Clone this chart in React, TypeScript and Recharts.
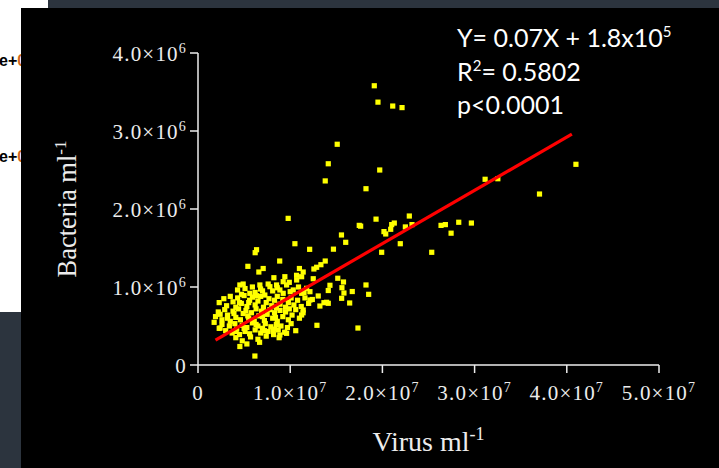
import React from 'react';
import { ScatterChart, Scatter, XAxis, YAxis } from 'recharts';

// virus (×10^6 ml-1), bacteria (×10^6 ml-1)
const SPARSE_POINTS: [number, number][] = [
  [19.12, 3.58], [19.52, 3.37], [21.12, 3.32], [22.13, 3.3], [15.1, 2.83],
  [14.13, 2.58], [13.8, 2.36], [19.71, 2.5], [18.22, 2.26], [9.78, 1.88],
  [19.31, 1.87], [22.92, 1.91], [17.49, 1.79], [17.64, 1.78], [21.29, 1.82],
  [21.01, 1.8], [20.9, 1.74], [20.17, 1.71], [20.36, 1.68], [22.49, 1.77],
  [23.21, 1.8], [26.36, 1.79], [26.83, 1.8], [27.45, 1.69], [28.28, 1.83],
  [29.65, 1.82], [25.35, 1.445], [21.94, 1.555], [19.92, 1.445], [15.56, 1.667],
  [16.02, 1.573], [10.51, 1.555], [12.11, 1.483], [14.69, 1.485], [6.35, 1.478],
  [6.2, 1.44], [8.86, 1.333], [5.41, 1.265], [13.8, 1.333], [13.33, 1.286],
  [12.87, 1.253], [12.57, 1.231], [7.07, 1.237], [6.6, 1.192], [11.0, 1.237],
  [11.41, 1.192], [10.69, 1.15], [11.24, 1.132], [12.5, 1.106], [15.16, 1.112],
  [15.78, 1.064], [14.31, 1.022], [14.13, 0.955], [15.61, 0.991], [15.83, 0.923],
  [16.73, 0.942], [18.22, 1.026], [18.51, 0.906], [16.45, 0.795], [13.04, 0.885],
  [13.22, 0.756], [13.66, 0.799], [14.13, 0.791], [17.35, 0.474], [12.9, 0.509],
  [4.54, 0.237], [6.17, 0.115], [6.68, 0.291], [1.75, 0.547], [2.4, 0.474],
  [31.14, 2.381], [32.52, 2.388], [40.99, 2.573], [37.04, 2.192], [15.58, 0.855],
  [12.14, 0.94], [11.78, 0.983], [11.24, 0.919], [10.33, 0.962], [8.23, 1.119],
  [9.42, 1.132], [9.24, 1.068], [8.52, 1.026], [9.61, 1.026], [4.9, 1.038],
  [4.54, 1.026], [6.71, 1.026], [6.79, 0.974], [7.61, 1.038], [7.8, 1.004],
  [4.29, 0.962], [4.72, 0.906], [5.62, 0.919], [6.35, 0.888], [7.25, 0.897],
  [9.24, 0.919], [8.88, 0.962], [8.88, 0.385], [9.61, 0.406], [8.15, 0.449],
  [11.24, 0.641], [11.41, 0.705], [12.14, 0.833], [13.95, 0.804],
];

const CLUSTER_POINTS: [number, number][] = [
  [5.1, 0.98], [5.9, 1.0], [8.1, 0.95], [8.6, 0.99], [10.0, 0.94], [10.9, 1.0],
  [11.5, 0.93], [6.2, 0.93], [7.0, 0.95], [9.9, 1.06], [10.7, 1.09],
  [2.3, 0.8], [2.8, 0.85], [3.1, 0.76], [3.5, 0.88], [3.8, 0.81], [4.1, 0.74],
  [4.3, 0.86], [4.7, 0.79], [5.0, 0.89], [5.3, 0.75], [5.6, 0.83], [5.9, 0.87],
  [6.2, 0.77], [6.5, 0.82], [6.8, 0.88], [7.1, 0.74], [7.4, 0.8], [7.7, 0.85],
  [8.0, 0.76], [8.3, 0.83], [8.6, 0.88], [8.9, 0.78], [9.2, 0.84], [9.5, 0.74],
  [9.8, 0.8], [10.1, 0.86], [10.4, 0.77], [10.8, 0.83], [11.2, 0.75], [11.6, 0.86],
  [12.0, 0.79], [12.4, 0.84], [4.5, 0.8], [5.5, 0.8], [8.5, 0.73],
  [1.9, 0.62], [2.2, 0.68], [2.6, 0.58], [2.9, 0.71], [3.2, 0.64], [3.5, 0.56],
  [3.8, 0.69], [4.1, 0.61], [4.4, 0.72], [4.6, 0.58], [4.9, 0.66], [5.2, 0.7],
  [5.5, 0.6], [5.8, 0.67], [6.1, 0.56], [6.3, 0.72], [6.6, 0.63], [6.9, 0.69],
  [7.2, 0.57], [7.5, 0.65], [7.8, 0.71], [8.1, 0.6], [8.3, 0.67], [8.6, 0.56],
  [8.9, 0.7], [9.2, 0.62], [9.5, 0.68], [9.8, 0.58], [10.2, 0.64], [10.6, 0.71],
  [11.0, 0.6], [11.4, 0.67], [3.9, 0.66], [5.4, 0.63], [7.0, 0.62], [8.4, 0.61],
  [2.4, 0.65], [3.2, 0.6], [9.9, 0.72],
  [2.3, 0.47], [2.6, 0.52], [3.0, 0.44], [3.4, 0.5], [3.7, 0.41], [4.0, 0.53],
  [4.2, 0.46], [4.5, 0.39], [4.8, 0.51], [5.1, 0.43], [5.3, 0.48], [5.6, 0.4],
  [5.9, 0.54], [6.2, 0.45], [6.5, 0.5], [6.8, 0.41], [7.0, 0.47], [7.3, 0.53],
  [7.6, 0.43], [7.9, 0.49], [8.2, 0.39], [8.5, 0.52], [8.7, 0.45], [9.0, 0.5],
  [9.4, 0.42], [9.7, 0.48], [10.1, 0.53], [10.6, 0.44], [5.0, 0.47], [6.3, 0.52],
  [7.2, 0.44], [4.1, 0.43], [8.3, 0.46],
  [4.1, 0.35], [4.8, 0.31], [5.7, 0.36], [6.5, 0.33], [7.4, 0.37], [8.8, 0.35],
  [5.3, 0.27],
];

// regression line end points (×10^6)
const FIT_X = [1.9, 40.55];
const FIT_Y = [0.32, 2.96];

const X_TICKS = [0, 1e7, 2e7, 3e7, 4e7, 5e7];
const Y_TICKS = [0, 1e6, 2e6, 3e6, 4e6];

const points = [...SPARSE_POINTS, ...CLUSTER_POINTS].map(([v, b]) => ({ x: v * 1e6, y: b * 1e6 }));
const fitData = FIT_X.map((v, i) => ({ x: v * 1e6, y: FIT_Y[i] * 1e6 }));

const SERIF = '"Liberation Serif", "Times New Roman", serif';
const AXIS = '#ececec';

function sci(v: number): [string, string] {
  if (v === 0) return ['0', ''];
  const e = Math.floor(Math.log10(v));
  return [(v / Math.pow(10, e)).toFixed(1) + '×10', String(e)];
}

const YTick = (props: any) => {
  const { x, y, payload } = props;
  const [m, e] = sci(payload.value);
  return (
    <text x={x - 1} y={y + 8} textAnchor="end" fill={AXIS} fontFamily={SERIF} fontSize={21} letterSpacing={1.2}>
      {m}
      {e && <tspan dy={-8} fontSize={14}>{e}</tspan>}
    </text>
  );
};

const XTick = (props: any) => {
  const { x, y, payload } = props;
  const [m, e] = sci(payload.value);
  return (
    <text x={x} y={y + 25} textAnchor="middle" fill={AXIS} fontFamily={SERIF} fontSize={21} letterSpacing={1.2}>
      {m}
      {e && <tspan dy={-8} fontSize={14}>{e}</tspan>}
    </text>
  );
};

const Square = (props: any) => {
  const { cx, cy } = props;
  return <rect x={cx - 2.6} y={cy - 2.6} width={5.2} height={5.2} fill="#ffff00" />;
};

export default function App() {
  return (
    <div style={{ position: 'fixed', left: 0, top: 0, width: 719, height: 468, background: '#2c343e', overflow: 'hidden' }}>
      <div style={{ position: 'absolute', left: 0, top: 0, width: 48, height: 8, background: '#fff' }} />
      <div style={{ position: 'absolute', left: 0, top: 0, width: 21, height: 312, background: '#fff' }} />
      <div style={{ position: 'absolute', left: -1, top: 52, font: 'bold 16px "Liberation Sans", sans-serif', color: '#000' }}>
        e+<span style={{ color: '#d2691e' }}>0</span>
      </div>
      <div style={{ position: 'absolute', left: -1, top: 148, font: 'bold 16px "Liberation Sans", sans-serif', color: '#000' }}>
        e+<span style={{ color: '#d2691e' }}>0</span>
      </div>
      <div style={{ position: 'absolute', left: 21, top: 8, right: 0, bottom: 0, background: '#000' }} />

      <div style={{ position: 'absolute', left: 0, top: 0 }}>
        <ScatterChart width={719} height={468} margin={{ top: 53, right: 60, bottom: 43, left: 138 }}>
          <XAxis
            type="number"
            dataKey="x"
            domain={[0, 5e7]}
            ticks={X_TICKS}
            interval={0}
            height={60}
            tickSize={8}
            stroke={AXIS}
            strokeWidth={1.5}
            tick={<XTick />}
            label={{
              content: () => (
                <text x={428.5} y={451} textAnchor="middle" fill={AXIS} fontFamily={SERIF} fontSize={28}>
                  Virus ml<tspan dy={-11} fontSize={18}>-1</tspan>
                </text>
              ),
            }}
          />
          <YAxis
            type="number"
            dataKey="y"
            domain={[0, 4e6]}
            ticks={Y_TICKS}
            interval={0}
            width={60}
            tickSize={8}
            stroke={AXIS}
            strokeWidth={1.5}
            tick={<YTick />}
            label={{
              content: () => (
                <text x={76} y={209} transform="rotate(-90 76 209)" textAnchor="middle" fill={AXIS} fontFamily={SERIF} fontSize={26.5}>
                  Bacteria ml<tspan dy={-10} fontSize={17}>-1</tspan>
                </text>
              ),
            }}
          />
          <Scatter data={points} shape={<Square />} isAnimationActive={false} />
          <Scatter
            data={fitData}
            line={{ stroke: '#ff0000', strokeWidth: 3.2 }}
            shape={() => <g />}
            isAnimationActive={false}
          />
        </ScatterChart>
      </div>

      <svg width={719} height={468} style={{ position: 'absolute', left: 0, top: 0, pointerEvents: 'none' }}>
        <g fill="#ffffff" fontFamily='Lato, "Open Sans", sans-serif' fontSize={25}>
          <text x={457} y={47}>
            Y= 0.07X + 1.8x10<tspan dy={-10} fontSize={15}>5</tspan>
          </text>
          <text x={457} y={81}>
            R<tspan dy={-10} fontSize={15}>2</tspan>
            <tspan dy={10}>= 0.5802</tspan>
          </text>
          <text x={457} y={114}>p&lt;0.0001</text>
        </g>
      </svg>
    </div>
  );
}
